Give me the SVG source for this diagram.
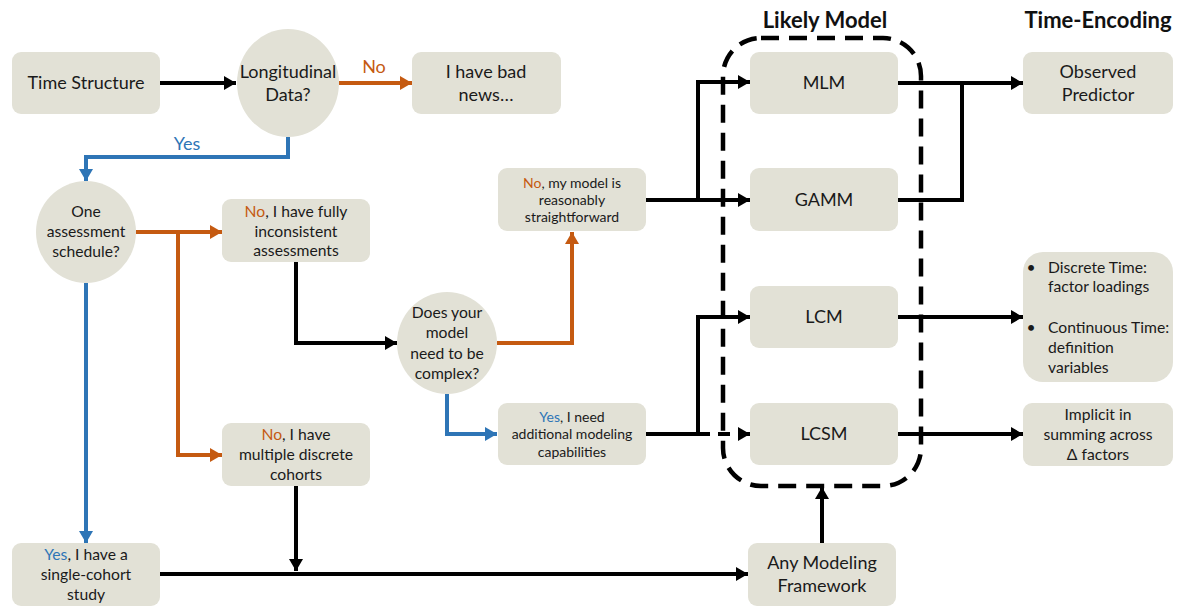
<svg xmlns="http://www.w3.org/2000/svg" width="1177" height="609" viewBox="0 0 1177 609">
<defs>
<style>
.box{fill:#E2E1D6;}
.t{font-family:Lato,"Open Sans","Liberation Sans",sans-serif;fill:#1a1a1a;text-anchor:middle;}
.s17{font-size:18px;}
.s15{font-size:15.7px;}
.s13{font-size:14px;}
.hd{font-family:Lato,"Open Sans","Liberation Sans",sans-serif;font-weight:bold;font-size:22px;fill:#111;text-anchor:middle;}
.or{fill:#C55A11;}
.bl{fill:#2E75B6;}
.k{fill:none;stroke:#000;stroke-width:4;}
.o{fill:none;stroke:#C55A11;stroke-width:4;}
.b{fill:none;stroke:#2E75B6;stroke-width:4;}
</style>
<marker id="ak" markerUnits="userSpaceOnUse" markerWidth="12" markerHeight="14" refX="12" refY="7" orient="auto"><path d="M0,0 L12,7 L0,14 z" fill="#000"/></marker>
<marker id="ao" markerUnits="userSpaceOnUse" markerWidth="12" markerHeight="14" refX="12" refY="7" orient="auto"><path d="M0,0 L12,7 L0,14 z" fill="#C55A11"/></marker>
<marker id="ab" markerUnits="userSpaceOnUse" markerWidth="12" markerHeight="14" refX="12" refY="7" orient="auto"><path d="M0,0 L12,7 L0,14 z" fill="#2E75B6"/></marker>
</defs>
<rect width="1177" height="609" fill="#fff"/>

<text class="hd" x="825" y="28">Likely Model</text>
<text class="hd" x="1098" y="28">Time-Encoding</text>

<g id="n-time-structure"><rect class="box" x="12" y="52" width="148" height="62" rx="9"/><text class="t s17" x="86" y="89">Time Structure</text></g>
<g id="n-longitudinal"><ellipse class="box" cx="288" cy="83" rx="51" ry="54"/><text class="t s17" x="288" y="78">Longitudinal</text><text class="t s17" x="288" y="101">Data?</text></g>
<g id="n-bad-news"><rect class="box" x="412" y="52" width="149" height="62" rx="9"/><text class="t s17" x="486" y="78">I have bad</text><text class="t s17" x="486" y="101">news…</text></g>
<g id="n-one-schedule"><ellipse class="box" cx="86" cy="232" rx="50" ry="51"/><text class="t s15" x="86" y="217">One</text><text class="t s15" x="86" y="237">assessment</text><text class="t s15" x="86" y="257">schedule?</text></g>
<g id="n-inconsistent"><rect class="box" x="222" y="199" width="148" height="63" rx="9"/><text class="t s15" x="296" y="217"><tspan class="or">No</tspan>, I have fully</text><text class="t s15" x="296" y="237">inconsistent</text><text class="t s15" x="296" y="256">assessments</text></g>
<g id="n-cohorts"><rect class="box" x="222" y="423" width="148" height="63" rx="9"/><text class="t s15" x="296" y="440"><tspan class="or">No</tspan>, I have</text><text class="t s15" x="296" y="460">multiple discrete</text><text class="t s15" x="296" y="480">cohorts</text></g>
<g id="n-single"><rect class="box" x="12" y="543" width="148" height="63" rx="9"/><text class="t s15" x="86" y="560"><tspan class="bl">Yes</tspan>, I have a</text><text class="t s15" x="86" y="580">single-cohort</text><text class="t s15" x="86" y="600">study</text></g>
<g id="n-complex"><ellipse class="box" cx="447" cy="343" rx="50" ry="51"/><text class="t s15" x="447" y="318">Does your</text><text class="t s15" x="447" y="338">model</text><text class="t s15" x="447" y="359">need to be</text><text class="t s15" x="447" y="379">complex?</text></g>
<g id="n-straight"><rect class="box" x="498" y="168" width="148" height="63" rx="9"/><text class="t s13" x="572" y="188"><tspan class="or">No</tspan>, my model is</text><text class="t s13" x="572" y="205">reasonably</text><text class="t s13" x="572" y="222">straightforward</text></g>
<g id="n-need"><rect class="box" x="498" y="403" width="148" height="62" rx="9"/><text class="t s13" x="572" y="422"><tspan class="bl">Yes</tspan>, I need</text><text class="t s13" x="572" y="439">additional modeling</text><text class="t s13" x="572" y="457">capabilities</text></g>
<g id="n-mlm"><rect class="box" x="750" y="52" width="148" height="62" rx="9"/><text class="t s17" x="824" y="89">MLM</text></g>
<g id="n-gamm"><rect class="box" x="750" y="168" width="148" height="63" rx="9"/><text class="t s17" x="824" y="206">GAMM</text></g>
<g id="n-lcm"><rect class="box" x="750" y="286" width="148" height="62" rx="9"/><text class="t s17" x="824" y="323">LCM</text></g>
<g id="n-lcsm"><rect class="box" x="750" y="403" width="148" height="62" rx="9"/><text class="t s17" x="824" y="440">LCSM</text></g>
<g id="n-any"><rect class="box" x="748" y="543" width="148" height="63" rx="9"/><text class="t s17" x="822" y="569">Any Modeling</text><text class="t s17" x="822" y="592">Framework</text></g>
<g id="n-observed"><rect class="box" x="1023" y="52" width="150" height="62" rx="9"/><text class="t s17" x="1098" y="78">Observed</text><text class="t s17" x="1098" y="101">Predictor</text></g>
<g id="n-discrete"><rect class="box" x="1023" y="252" width="150" height="130" rx="20"/>
<text class="t s15" x="1031" y="273">•</text><text class="t s15" x="1048" y="273" style="text-anchor:start">Discrete Time:</text>
<text class="t s15" x="1048" y="292" style="text-anchor:start">factor loadings</text>
<text class="t s15" x="1031" y="333">•</text><text class="t s15" x="1048" y="333" style="text-anchor:start">Continuous Time:</text>
<text class="t s15" x="1048" y="353" style="text-anchor:start">definition</text>
<text class="t s15" x="1048" y="373" style="text-anchor:start">variables</text></g>
<g id="n-implicit"><rect class="box" x="1023" y="403" width="150" height="63" rx="9"/><text class="t s15" x="1098" y="420">Implicit in</text><text class="t s15" x="1098" y="440">summing across</text><text class="t s15" x="1098" y="460">Δ factors</text></g>

<g id="connectors">
<path class="k" d="M160,83 H236" marker-end="url(#ak)"/>
<path class="o" d="M339,83 H412" marker-end="url(#ao)"/>
<text class="t s17 or" x="374" y="73">No</text>
<path class="b" d="M288,137 V157 H86 V181" marker-end="url(#ab)"/>
<text class="t s17 bl" x="187" y="150">Yes</text>
<path class="o" d="M136,232 H222" marker-end="url(#ao)"/>
<path class="o" d="M178,232 V455 H222" marker-end="url(#ao)"/>
<path class="b" d="M86,283 V543" marker-end="url(#ab)"/>
<path class="k" d="M296,262 V343 H397" marker-end="url(#ak)"/>
<path class="k" d="M296,486 V571" marker-end="url(#ak)"/>
<path class="k" d="M160,574 H748" marker-end="url(#ak)"/>
<path class="o" d="M497,343 H572 V232" marker-end="url(#ao)"/>
<path class="b" d="M447,394 V434 H497" marker-end="url(#ab)"/>
<path class="k" d="M646,200 H750" marker-end="url(#ak)"/>
<path class="k" d="M698,200 V82 H750" marker-end="url(#ak)"/>
<path class="k" d="M646,434 H698 V317 H750" marker-end="url(#ak)"/>
<path class="k" d="M698,434 H750" stroke-dasharray="12 8" marker-end="url(#ak)"/>
<path class="k" d="M898,83 H1023" marker-end="url(#ak)"/>
<path class="k" d="M898,200 H962 V83"/>
<path class="k" d="M898,317 H1023" marker-end="url(#ak)"/>
<path class="k" d="M898,434 H1023" marker-end="url(#ak)"/>
<path class="k" d="M822,543 V487" marker-end="url(#ak)"/>
<rect x="723" y="38" width="198" height="448" rx="38" fill="none" stroke="#000" stroke-width="4.5" stroke-dasharray="18 10"/>
</g>
</svg>
